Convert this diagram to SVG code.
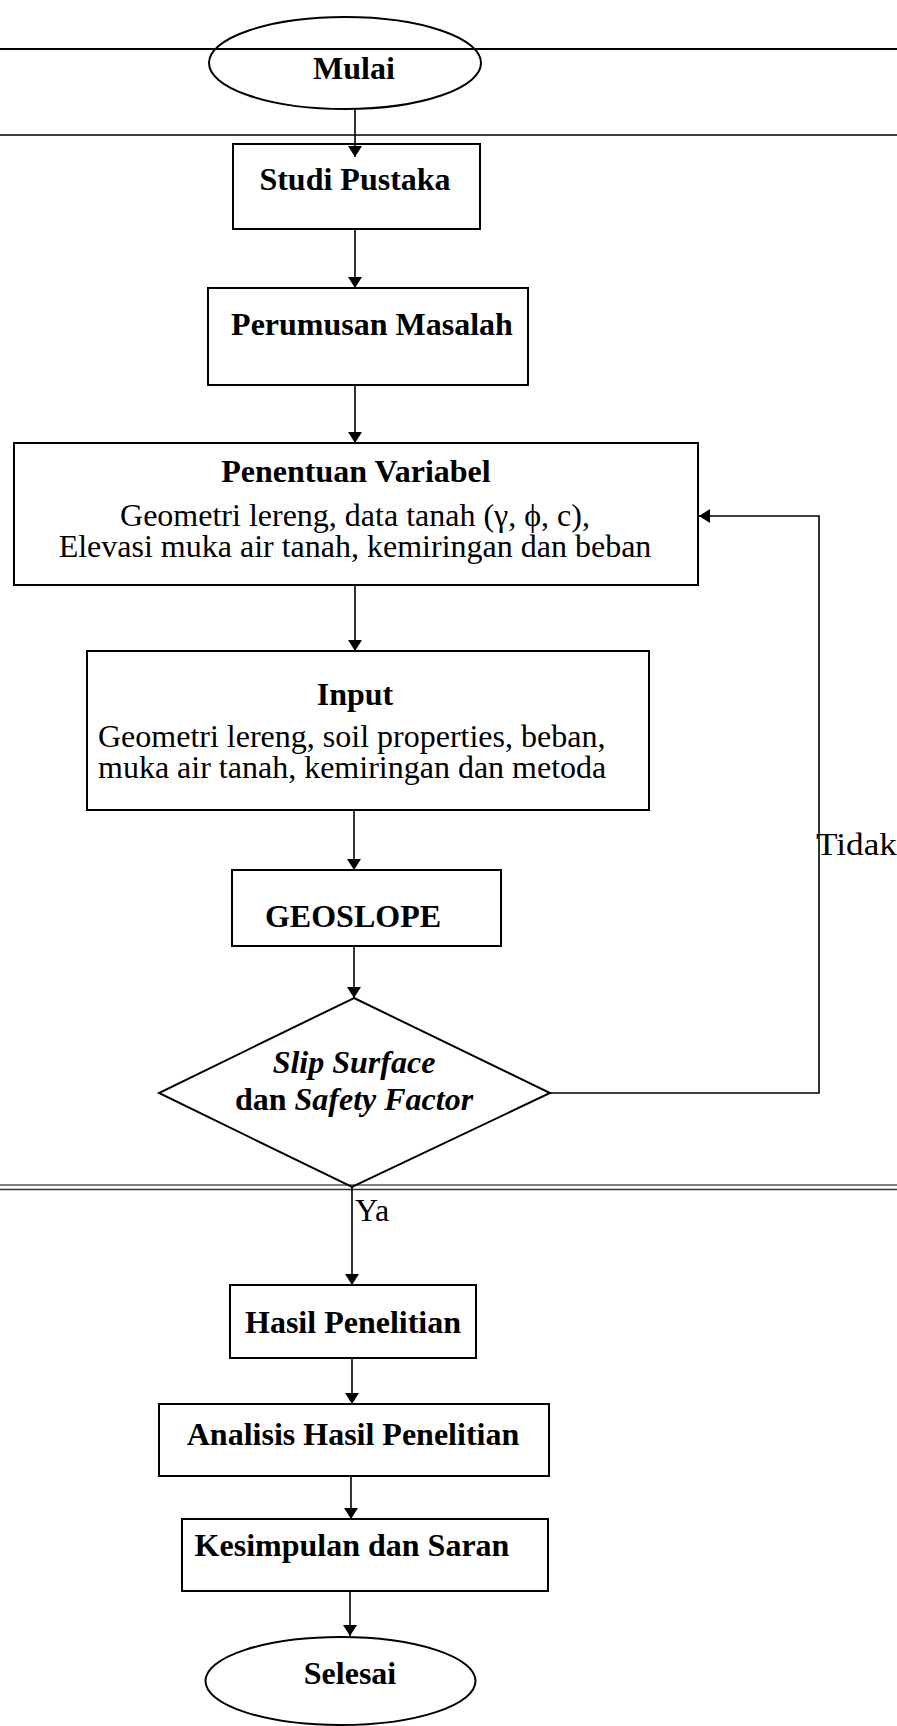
<svg xmlns="http://www.w3.org/2000/svg" width="897" height="1726" viewBox="0 0 897 1726">
<style>
.box{fill:none;stroke:#000;stroke-width:2}
.ln{fill:none;stroke:#000;stroke-width:1.6}
.b{font-family:"Liberation Serif","Times New Roman",serif;font-weight:bold;font-size:32px;fill:#000}
.r{font-family:"Liberation Serif","Times New Roman",serif;font-size:32px;fill:#000}
.bi{font-style:italic}
</style>
<defs>
<marker id="ah" viewBox="0 0 11 14" refX="11" refY="7" markerWidth="11" markerHeight="14" markerUnits="userSpaceOnUse" orient="auto">
<path d="M0,0 L11,7 L0,14 Z" fill="#000"/>
</marker>
</defs>
<rect width="897" height="1726" fill="#fff"/>
<g id="rules">
<line x1="0" y1="49" x2="897" y2="49" stroke="#000" stroke-width="2.2"/>
<line x1="0" y1="135" x2="897" y2="135" stroke="#000" stroke-width="1.6"/>
<line x1="0" y1="1185" x2="897" y2="1185" stroke="#555" stroke-width="1.3"/>
<line x1="0" y1="1189.5" x2="897" y2="1189.5" stroke="#333" stroke-width="1.6"/>
</g>
<g id="connectors">
<line class="ln" x1="355" y1="109" x2="355" y2="157" marker-end="url(#ah)"/>
<line class="ln" x1="355" y1="229" x2="355" y2="288" marker-end="url(#ah)"/>
<line class="ln" x1="355" y1="385" x2="355" y2="443" marker-end="url(#ah)"/>
<line class="ln" x1="355" y1="585" x2="355" y2="651" marker-end="url(#ah)"/>
<line class="ln" x1="354" y1="810" x2="354" y2="870" marker-end="url(#ah)"/>
<line class="ln" x1="354" y1="946" x2="354" y2="998" marker-end="url(#ah)"/>
<line class="ln" x1="352" y1="1187" x2="352" y2="1285" marker-end="url(#ah)"/>
<line class="ln" x1="352" y1="1358" x2="352" y2="1404" marker-end="url(#ah)"/>
<line class="ln" x1="351" y1="1476" x2="351" y2="1519" marker-end="url(#ah)"/>
<line class="ln" x1="350" y1="1591" x2="350" y2="1636" marker-end="url(#ah)"/>
<polyline class="ln" points="550,1093 819,1093 819,516 699,516" marker-end="url(#ah)"/>
<text class="r" x="355" y="1221">Ya</text>
<text class="r" x="816" y="855" textLength="81" lengthAdjust="spacingAndGlyphs">Tidak</text>
</g>
<g id="mulai">
<ellipse class="box" cx="345" cy="63" rx="136" ry="46"/>
<text class="b" x="354" y="79" text-anchor="middle">Mulai</text>
</g>
<g id="studi">
<rect class="box" x="233" y="144" width="247" height="85"/>
<text class="b" x="355" y="190" text-anchor="middle">Studi Pustaka</text>
</g>
<g id="perumusan">
<rect class="box" x="208" y="288" width="320" height="97"/>
<text class="b" x="372" y="335" text-anchor="middle">Perumusan Masalah</text>
</g>
<g id="penentuan">
<rect class="box" x="14" y="443" width="684" height="142"/>
<text class="b" x="356" y="482" text-anchor="middle">Penentuan Variabel</text>
<text class="r" x="355" y="526" text-anchor="middle">Geometri lereng, data tanah (γ, ϕ, c),</text>
<text class="r" x="355" y="557" text-anchor="middle">Elevasi muka air tanah, kemiringan dan beban</text>
</g>
<g id="input">
<rect class="box" x="87" y="651" width="562" height="159"/>
<text class="b" x="355" y="705" text-anchor="middle">Input</text>
<text class="r" x="98" y="747">Geometri lereng, soil properties, beban,</text>
<text class="r" x="98" y="778">muka air tanah, kemiringan dan metoda</text>
</g>
<g id="geoslope">
<rect class="box" x="232" y="870" width="269" height="76"/>
<text class="b" x="353" y="927" text-anchor="middle">GEOSLOPE</text>
</g>
<g id="decision">
<polygon class="box" points="354,998 550,1093 352,1187 159,1093"/>
<text class="b bi" x="354" y="1073" text-anchor="middle">Slip Surface</text>
<text class="b" x="354" y="1110" text-anchor="middle">dan <tspan class="bi">Safety Factor</tspan></text>
</g>
<g id="hasil">
<rect class="box" x="230" y="1285" width="246" height="73"/>
<text class="b" x="353" y="1333" text-anchor="middle">Hasil Penelitian</text>
</g>
<g id="analisis">
<rect class="box" x="159" y="1404" width="390" height="72"/>
<text class="b" x="353" y="1445" text-anchor="middle">Analisis Hasil Penelitian</text>
</g>
<g id="kesimpulan">
<rect class="box" x="182" y="1519" width="366" height="72"/>
<text class="b" x="352" y="1556" text-anchor="middle">Kesimpulan dan Saran</text>
</g>
<g id="selesai">
<ellipse class="box" cx="340.5" cy="1681" rx="135" ry="44"/>
<text class="b" x="350" y="1684" text-anchor="middle">Selesai</text>
</g>
</svg>
